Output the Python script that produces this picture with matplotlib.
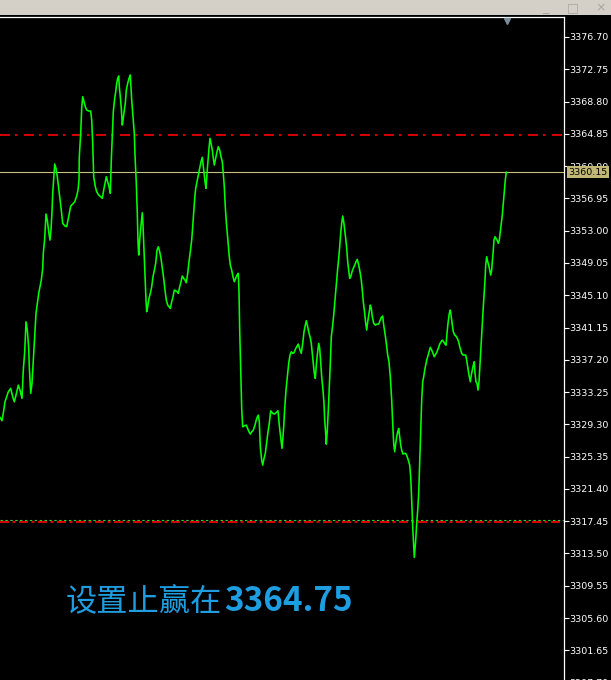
import matplotlib
matplotlib.use("Agg")
import matplotlib.pyplot as plt
import matplotlib.transforms as mtransforms
import numpy as np

# price path (t = time index, left to right)
t = [0, 2, 3.3, 5, 6.7, 8.3, 10.7, 12.7, 14.3, 16, 18.3, 20, 22, 23.3, 24.7, 26, 27.3, 28.7, 29.3, 30.7,
     32, 33.3, 34.7, 36, 37.3, 38.7, 40, 41.3, 42.7, 43.3, 44.7, 46, 47.3, 48.7, 50, 51, 52, 52.7, 54, 54.7,
     56, 57.3, 58.7, 60, 61.3, 62.7, 65, 66.7, 68, 69.3, 70.7, 72.7, 74.7, 76.7, 78, 79, 79.3, 80.7, 81.7, 82.7,
     84, 85.3, 86.7, 88.7, 90.7, 91.7, 92.7, 93.7, 95.3, 96.7, 98.7, 100.7, 102.3, 103.7, 105, 106.3, 107.7, 109, 110.3, 111.3,
     112.3, 113.3, 114.7, 115.7, 116.7, 117.7, 118.7, 119.3, 120.3, 121.3, 122.3, 123.3, 124.3, 125.3, 126.3, 127.7, 129, 130.3, 131.7, 133,
     134.3, 135, 136.3, 137.3, 138, 138.7, 139.7, 140.7, 141.7, 142.3, 143, 144, 145, 146, 146.7, 147.7, 149, 150.3, 151.7, 153,
     154.3, 155.7, 157, 158.3, 159.7, 161, 162.3, 163.7, 165, 166.3, 167.7, 169, 170.3, 171.7, 173, 174.3, 175.7, 177, 178.3, 179.7,
     181, 182.3, 183.7, 185, 186.3, 187.7, 189, 190.3, 191.7, 192.7, 193.7, 194.7, 195.7, 197, 198.3, 199.7, 201, 202.3, 203.7, 205,
     206, 207, 208, 209, 210, 211, 212.3, 213.3, 214.3, 215.7, 217, 218.3, 219.7, 221, 222.3, 223.3, 224.3, 225.3, 226.3, 227.3,
     228.3, 229.3, 230.3, 231.7, 233, 234.3, 235.7, 237, 238.3, 239, 239.7, 240.7, 241.7, 242.7, 244.3, 246.3, 247.7, 249, 250.3, 251.7,
     253.3, 255, 256.7, 258.3, 259.3, 260.3, 261.7, 262.7, 264, 265.3, 266.7, 268, 269.3, 270.7, 272.7, 274.7, 276.7, 278, 279.3, 280.7,
     282, 282.7, 283.7, 284.7, 286, 287.3, 288.7, 290, 291.3, 292.7, 294, 295.3, 296.7, 298.3, 300, 301.3, 302.7, 304, 305.3, 306.3,
     307.3, 308.7, 310, 311.3, 312.3, 313.3, 314.3, 315.3, 316.3, 317.3, 318.7, 319.7, 320.7, 321.7, 323, 324, 324.7, 325.7, 326.3, 327.3,
     328.3, 329.3, 330.3, 331.3, 332.7, 333.7, 334.7, 335.7, 336.7, 337.7, 338.7, 339.7, 340.7, 341.7, 342.7, 343.7, 344.7, 345.7, 346.7, 347.7,
     348.7, 349.7, 350.7, 352, 353.3, 354.7, 356, 357.3, 358.7, 360, 361.3, 362.3, 363.3, 364.7, 365.7, 366.7, 367.7, 369, 370.3, 371.3,
     372.3, 373.7, 375.3, 377.3, 378.7, 380, 381.3, 382.7, 383.7, 384.7, 385.7, 386.7, 387.7, 389, 390.3, 391.7, 392.7, 393.7, 394.7, 395.7,
     396.7, 397.7, 398.7, 399.7, 400.7, 401.7, 403, 404.3, 405.7, 407, 408.3, 409.7, 410.7, 411.7, 412.7, 413.7, 414.3, 415, 415.7, 416.7,
     417.7, 418.7, 419.7, 420.7, 421.7, 422.7, 423.7, 424.7, 425.7, 426.7, 427.7, 429, 430.3, 431.7, 433, 434.3, 435.7, 437, 438.3, 439.7,
     441, 442.3, 443.7, 445, 446, 447, 448, 449.3, 450.3, 451.3, 452.3, 453.3, 454.7, 456, 457.3, 458.7, 459.7, 460.7, 461.7, 463,
     464.3, 465.7, 466.7, 467.7, 468.7, 469.7, 470.3, 471.3, 472.3, 473.3, 474.3, 475, 476, 477, 478, 479, 480, 481, 482, 483,
     484, 485, 485.7, 486.7, 487.7, 488.7, 489.7, 490.7, 491.7, 492.3, 493.3, 494, 495, 496, 497.3, 498.3, 499.3, 500.3, 501.3, 502.3,
     503.3, 504.3, 505.3, 506.3]

price = [3330.15, 3329.74, 3330.68, 3332.06, 3332.67, 3333.28, 3333.70, 3332.67, 3332.06, 3332.88, 3334.10, 3333.49, 3332.48, 3335.94, 3338.18, 3341.85, 3340.84, 3338.60, 3336.34, 3333.09,
         3334.31, 3337.16, 3340.02, 3342.88, 3344.10, 3345.33, 3346.14, 3346.96, 3348.39, 3350.22, 3352.06, 3355.04, 3354.30, 3352.87, 3351.85, 3353.08, 3355.32, 3357.57, 3359.81, 3361.16,
         3360.63, 3359.60, 3358.18, 3356.75, 3355.52, 3353.90, 3353.57, 3353.48, 3354.30, 3355.12, 3356.01, 3356.26, 3356.54, 3357.24, 3357.97, 3359.20, 3362.05, 3364.91, 3367.97, 3369.39,
         3368.78, 3368.17, 3367.76, 3367.64, 3367.64, 3366.54, 3363.69, 3359.60, 3358.38, 3357.76, 3357.36, 3357.15, 3356.96, 3357.97, 3358.79, 3359.60, 3358.99, 3358.38, 3357.57, 3361.64,
         3364.70, 3367.56, 3369.20, 3370.00, 3371.03, 3371.64, 3371.93, 3370.62, 3369.39, 3367.97, 3365.93, 3366.75, 3367.76, 3368.58, 3370.21, 3371.03, 3371.64, 3372.05, 3368.99, 3366.94,
         3364.91, 3362.26, 3358.79, 3355.12, 3351.64, 3350.02, 3351.85, 3353.28, 3354.51, 3355.19, 3353.69, 3350.63, 3347.57, 3344.51, 3343.08, 3343.69, 3344.72, 3345.33, 3346.14, 3347.36,
         3348.18, 3349.00, 3350.63, 3351.03, 3350.42, 3349.61, 3348.39, 3347.16, 3345.73, 3344.51, 3343.90, 3343.69, 3343.49, 3344.30, 3344.91, 3345.73, 3345.65, 3345.52, 3345.33, 3346.14,
         3346.75, 3347.45, 3347.16, 3346.96, 3346.63, 3347.78, 3349.20, 3350.42, 3351.85, 3353.48, 3355.32, 3356.96, 3358.18, 3358.99, 3359.81, 3360.63, 3361.44, 3361.98, 3360.42, 3358.99,
         3358.18, 3360.02, 3361.64, 3363.08, 3364.30, 3363.69, 3362.87, 3361.85, 3361.03, 3361.85, 3362.66, 3363.27, 3362.87, 3362.05, 3361.44, 3360.02, 3358.38, 3355.93, 3354.09, 3352.67,
         3351.24, 3349.81, 3348.79, 3348.18, 3347.36, 3346.75, 3347.16, 3347.57, 3347.78, 3345.52, 3340.84, 3335.94, 3331.25, 3329.00, 3329.12, 3329.21, 3328.80, 3328.39, 3328.11, 3328.39,
         3328.60, 3329.21, 3330.03, 3330.43, 3329.61, 3326.55, 3324.92, 3324.31, 3325.13, 3325.74, 3327.16, 3328.39, 3329.42, 3330.96, 3330.64, 3330.56, 3330.80, 3330.96, 3329.21, 3327.78,
         3326.36, 3327.37, 3329.00, 3331.25, 3333.49, 3335.12, 3336.76, 3337.78, 3338.18, 3337.99, 3338.06, 3338.47, 3338.79, 3339.12, 3338.39, 3337.99, 3339.21, 3340.63, 3341.45, 3341.98,
         3341.45, 3340.63, 3340.02, 3339.21, 3337.99, 3336.76, 3335.54, 3334.92, 3336.55, 3337.78, 3339.21, 3338.60, 3336.76, 3335.12, 3333.49, 3331.86, 3329.82, 3328.19, 3326.88, 3328.60,
         3331.04, 3333.90, 3336.76, 3340.02, 3341.45, 3342.67, 3344.10, 3345.52, 3346.96, 3348.39, 3349.61, 3351.03, 3352.67, 3353.90, 3354.79, 3354.09, 3353.08, 3352.06, 3350.84, 3349.20,
         3348.18, 3347.16, 3347.36, 3347.97, 3348.39, 3348.79, 3349.20, 3349.49, 3348.79, 3347.97, 3346.96, 3345.73, 3344.30, 3342.88, 3341.66, 3340.84, 3341.85, 3342.88, 3343.90, 3343.49,
         3342.46, 3341.66, 3341.45, 3341.57, 3341.57, 3341.98, 3342.39, 3342.55, 3341.45, 3340.63, 3339.82, 3338.79, 3337.78, 3336.96, 3335.12, 3332.27, 3329.42, 3326.97, 3325.94, 3326.97,
         3327.78, 3328.39, 3328.80, 3327.78, 3326.76, 3326.15, 3325.66, 3325.74, 3325.74, 3325.41, 3324.92, 3324.31, 3322.88, 3320.03, 3316.76, 3314.31, 3313.02, 3314.12, 3315.13, 3317.18,
         3318.80, 3320.85, 3324.72, 3328.39, 3332.27, 3334.51, 3335.12, 3335.94, 3336.55, 3337.16, 3337.57, 3338.18, 3338.72, 3338.39, 3337.99, 3337.57, 3337.90, 3338.18, 3338.60, 3339.12,
         3339.40, 3339.61, 3339.40, 3339.12, 3338.99, 3340.43, 3341.66, 3342.88, 3343.28, 3342.46, 3341.45, 3340.63, 3340.22, 3340.10, 3339.82, 3339.40, 3338.79, 3338.39, 3337.99, 3337.78,
         3337.78, 3337.78, 3337.16, 3336.34, 3335.54, 3334.92, 3334.51, 3335.33, 3335.94, 3336.55, 3336.96, 3335.54, 3334.51, 3334.31, 3333.49, 3334.51, 3336.55, 3338.79, 3341.04, 3343.08,
         3345.00, 3346.96, 3348.79, 3349.81, 3349.20, 3348.79, 3348.18, 3347.57, 3348.18, 3349.20, 3350.63, 3351.85, 3352.26, 3352.06, 3351.77, 3351.45, 3351.85, 3352.87, 3353.90, 3354.91,
         3356.34, 3357.76, 3359.20, 3360.15]

yticks = [3376.70, 3372.75, 3368.80, 3364.85, 3360.90, 3356.95, 3353.00, 3349.05, 3345.10, 3341.15,
          3337.20, 3333.25, 3329.30, 3325.35, 3321.40, 3317.45, 3313.50, 3309.55, 3305.60, 3301.65, 3297.70]

take_profit = 3364.75
stop_loss = 3317.45
current = 3360.15
note_cn = "设置止赢在"
note_num = "3364.75"

W, H = 611, 680
fig = plt.figure(figsize=(W / 100, H / 100), dpi=100, facecolor="black")

# window title strip
fig.patches.append(plt.Rectangle((0, 1 - 15 / H), 1, 15 / H, transform=fig.transFigure,
                                 facecolor="#d4d0c8", edgecolor="none", zorder=0))
for gx, g in [(545, "_"), (573, "□"), (601, "×")]:
    fig.text(gx / W, 1 - 8 / H, g, color="#aaa69e", fontsize=9, ha="center", va="center")

top_px, bot_px, right_px = 17, 692, 564
ax = fig.add_axes([0, 1 - bot_px / H, right_px / W, (bot_px - top_px) / H])
ax.set_facecolor("black")

ax.plot(t, price, color="#00ff00", lw=1.15, zorder=4)

ax.axhline(take_profit, color="#ff0000", lw=1.2, dashes=(6.0, 3.0, 1.5, 3.9), zorder=3)
ax.axhline(stop_loss + 0.12, color="#33cc33", lw=0.8, dashes=(2.2, 2.2), zorder=3)
ax.axhline(stop_loss - 0.05, color="#ff0000", lw=1.2, dashes=(5.4, 2.1, 1.8, 2.1), zorder=3)
ax.axhline(current, color="#c8c080", lw=0.8, zorder=3)

ax.set_xlim(0, right_px)
ylo = 3376.70 - (bot_px - 37) * 0.12237
yhi = 3376.70 + (37 - top_px) * 0.12237
ax.set_ylim(ylo, yhi)

ax.yaxis.tick_right()
ax.set_yticks(yticks)
ax.set_yticklabels([f"{v:.2f}" for v in yticks])
ax.tick_params(axis="y", colors="white", labelcolor="white", labelsize=6.8,
               direction="out", length=3.5, width=0.8, pad=0.5)
ax.set_xticks([])
for s in ["left", "bottom"]:
    ax.spines[s].set_visible(False)
for s in ["top", "right"]:
    ax.spines[s].set_color("white")
    ax.spines[s].set_linewidth(0.9)

# current price tag on the axis
ax.text(1.007, current, f"{current:.2f}", transform=mtransforms.blended_transform_factory(ax.transAxes, ax.transData),
        color="black", fontsize=6.8, ha="left", va="center", clip_on=False, zorder=10,
        bbox=dict(boxstyle="square,pad=0.15", facecolor="#c0b874", edgecolor="none"))

# shift marker at the last bar
ax.plot([t[-1] + 0.7], [0.994], marker="v", markersize=5, color="#7a8a9a",
        transform=mtransforms.blended_transform_factory(ax.transData, ax.transAxes),
        clip_on=False, zorder=6)

# note text
fig.text(66 / W, 1 - 611 / H, note_cn, color="#1e9ee0", fontsize=22.5,
         family=["Noto Sans CJK SC", "DejaVu Sans"], ha="left", va="baseline")
fig.text(224 / W, 1 - 611 / H, note_num, color="#1e9ee0", fontsize=24, fontweight="bold",
         family=["Noto Sans CJK SC", "DejaVu Sans"], ha="left", va="baseline")

fig.savefig("out.png", dpi=100, facecolor="black")
